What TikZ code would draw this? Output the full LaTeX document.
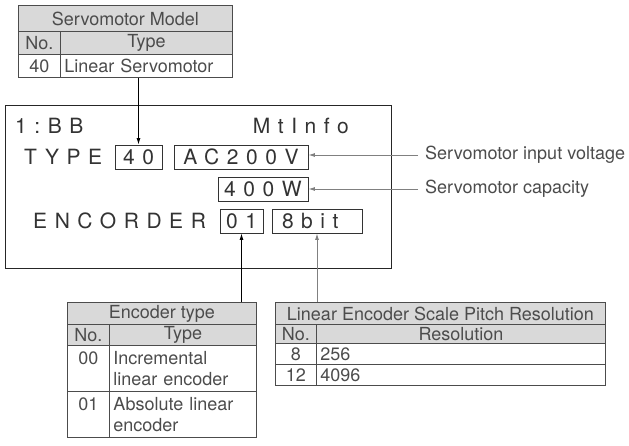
\documentclass[tikz,border=0pt]{standalone}
\usepackage{fontspec}
\setmainfont{TeX Gyre Heros}
\newfontfamily\lcdfont{TeX Gyre Heros}[LetterSpace=36]
\usetikzlibrary{arrows.meta}
\definecolor{cellgray}{gray}{0.85}
\definecolor{inkgray}{gray}{0.3}
\definecolor{leadgray}{gray}{0.5}

\tikzset{
  cell/.style={draw=inkgray, line width=0.9pt, text=inkgray, inner sep=0pt,
    anchor=north west, font=\fontsize{18}{21}\selectfont},
  headcell/.style={cell, fill=cellgray},
  desccell/.style={cell, inner xsep=4pt, align=left},
  lcd/.style={inner sep=0pt, text=black!80, font=\fontsize{21}{24}\lcdfont},
  lcdbox/.style={lcd, draw=black!80, line width=0.9pt, minimum height=24pt},
  note/.style={inner sep=0pt, anchor=west, text=inkgray, font=\fontsize{18}{21}\selectfont},
  arr/.style={-{Latex[length=6.5pt,width=4pt]}, line width=0.9pt},
}

\begin{document}
\begin{tikzpicture}[x=1pt,y=-1pt]
  \useasboundingbox (0,0) rectangle (629,445);

  \node[headcell, minimum width=214pt, minimum height=26pt] (mdl-h) at (18,5) {Servomotor Model};
  \node[headcell, minimum width=42pt, minimum height=23pt] (mdl-no) at (18,31) {No.};
  \node[headcell, minimum width=172pt, minimum height=23pt] (mdl-ty) at (60,31) {Type};
  \node[cell, minimum width=42pt, minimum height=23pt] (mdl-n) at (18,54) {40};
  \node[desccell, text width=164pt, minimum height=23pt] (mdl-t) at (60,54) {Linear Servomotor};

  \node[draw=black!85, line width=0.9pt, inner sep=0pt, anchor=north west,
    minimum width=386pt, minimum height=163pt] (lcd) at (5,105) {};
  \node[lcd, anchor=west] (bb) at (15,126) {1:BB};
  \node[lcd, anchor=east] (mti) at (349,126) {MtInfo};
  \node[lcd, anchor=west] (typ) at (24,157) {TYPE};
  \node[lcdbox, minimum width=47pt] (t40) at (138.5,157) {40};
  \node[lcdbox, minimum width=134pt] (ac) at (241,157) {AC200V};
  \node[lcdbox, minimum width=90pt] (pw) at (263,189) {400W};
  \node[lcd, anchor=west] (enc) at (33,221) {ENCORDER};
  \node[lcdbox, minimum width=43pt] (b01) at (241.5,221) {01};
  \node[lcdbox, text width=70pt, inner xsep=10pt, align=left] (bit) at (317,221) {8bit};

  \node[note] (vlt) at (425,155) {Servomotor input voltage};
  \node[note] (cap) at (425,189) {Servomotor capacity};

  \node[headcell, minimum width=189pt, minimum height=22pt] (enc-h) at (67,302) {Encoder type};
  \node[headcell, minimum width=42pt, minimum height=21pt] (enc-no) at (67,324) {No.};
  \node[headcell, minimum width=147pt, minimum height=21pt] (enc-ty) at (109,324) {Type};
  \node[cell, text width=42pt, align=center, minimum height=46pt] (enc-n0) at (67,345) {00\\\phantom{0}};
  \node[desccell, text width=139pt, minimum height=46pt] (enc-t0) at (109,345) {Incremental\\linear encoder};
  \node[cell, text width=42pt, align=center, minimum height=46pt] (enc-n1) at (67,391) {01\\\phantom{0}};
  \node[desccell, text width=139pt, minimum height=46pt] (enc-t1) at (109,391) {Absolute linear\\encoder};

  \node[headcell, minimum width=330pt, minimum height=22pt] (res-h) at (275,302) {Linear Encoder Scale Pitch Resolution};
  \node[headcell, minimum width=41pt, minimum height=19pt] (res-no) at (275,324) {No.};
  \node[headcell, minimum width=289pt, minimum height=19pt] (res-ty) at (316,324) {Resolution};
  \node[cell, minimum width=41pt, minimum height=21pt] (res-n8) at (275,343) {8};
  \node[desccell, text width=281pt, minimum height=21pt] (res-v8) at (316,343) {256};
  \node[cell, minimum width=41pt, minimum height=21pt] (res-n12) at (275,364) {12};
  \node[desccell, text width=281pt, minimum height=21pt] (res-v12) at (316,364) {4096};

  \draw[arr] (mdl-t.south -| t40.north) -- (t40.north);
  \draw[arr, leadgray] ([xshift=-7pt]vlt.west) -- (vlt.west -| ac.east);
  \draw[arr, leadgray] ([xshift=-7pt]cap.west) -- (cap.west -| pw.east);
  \draw[arr] (enc-h.north -| b01.south) -- (b01.south);
  \draw[arr, leadgray] (res-h.north -| bit.south) -- (bit.south);
\end{tikzpicture}
\end{document}
